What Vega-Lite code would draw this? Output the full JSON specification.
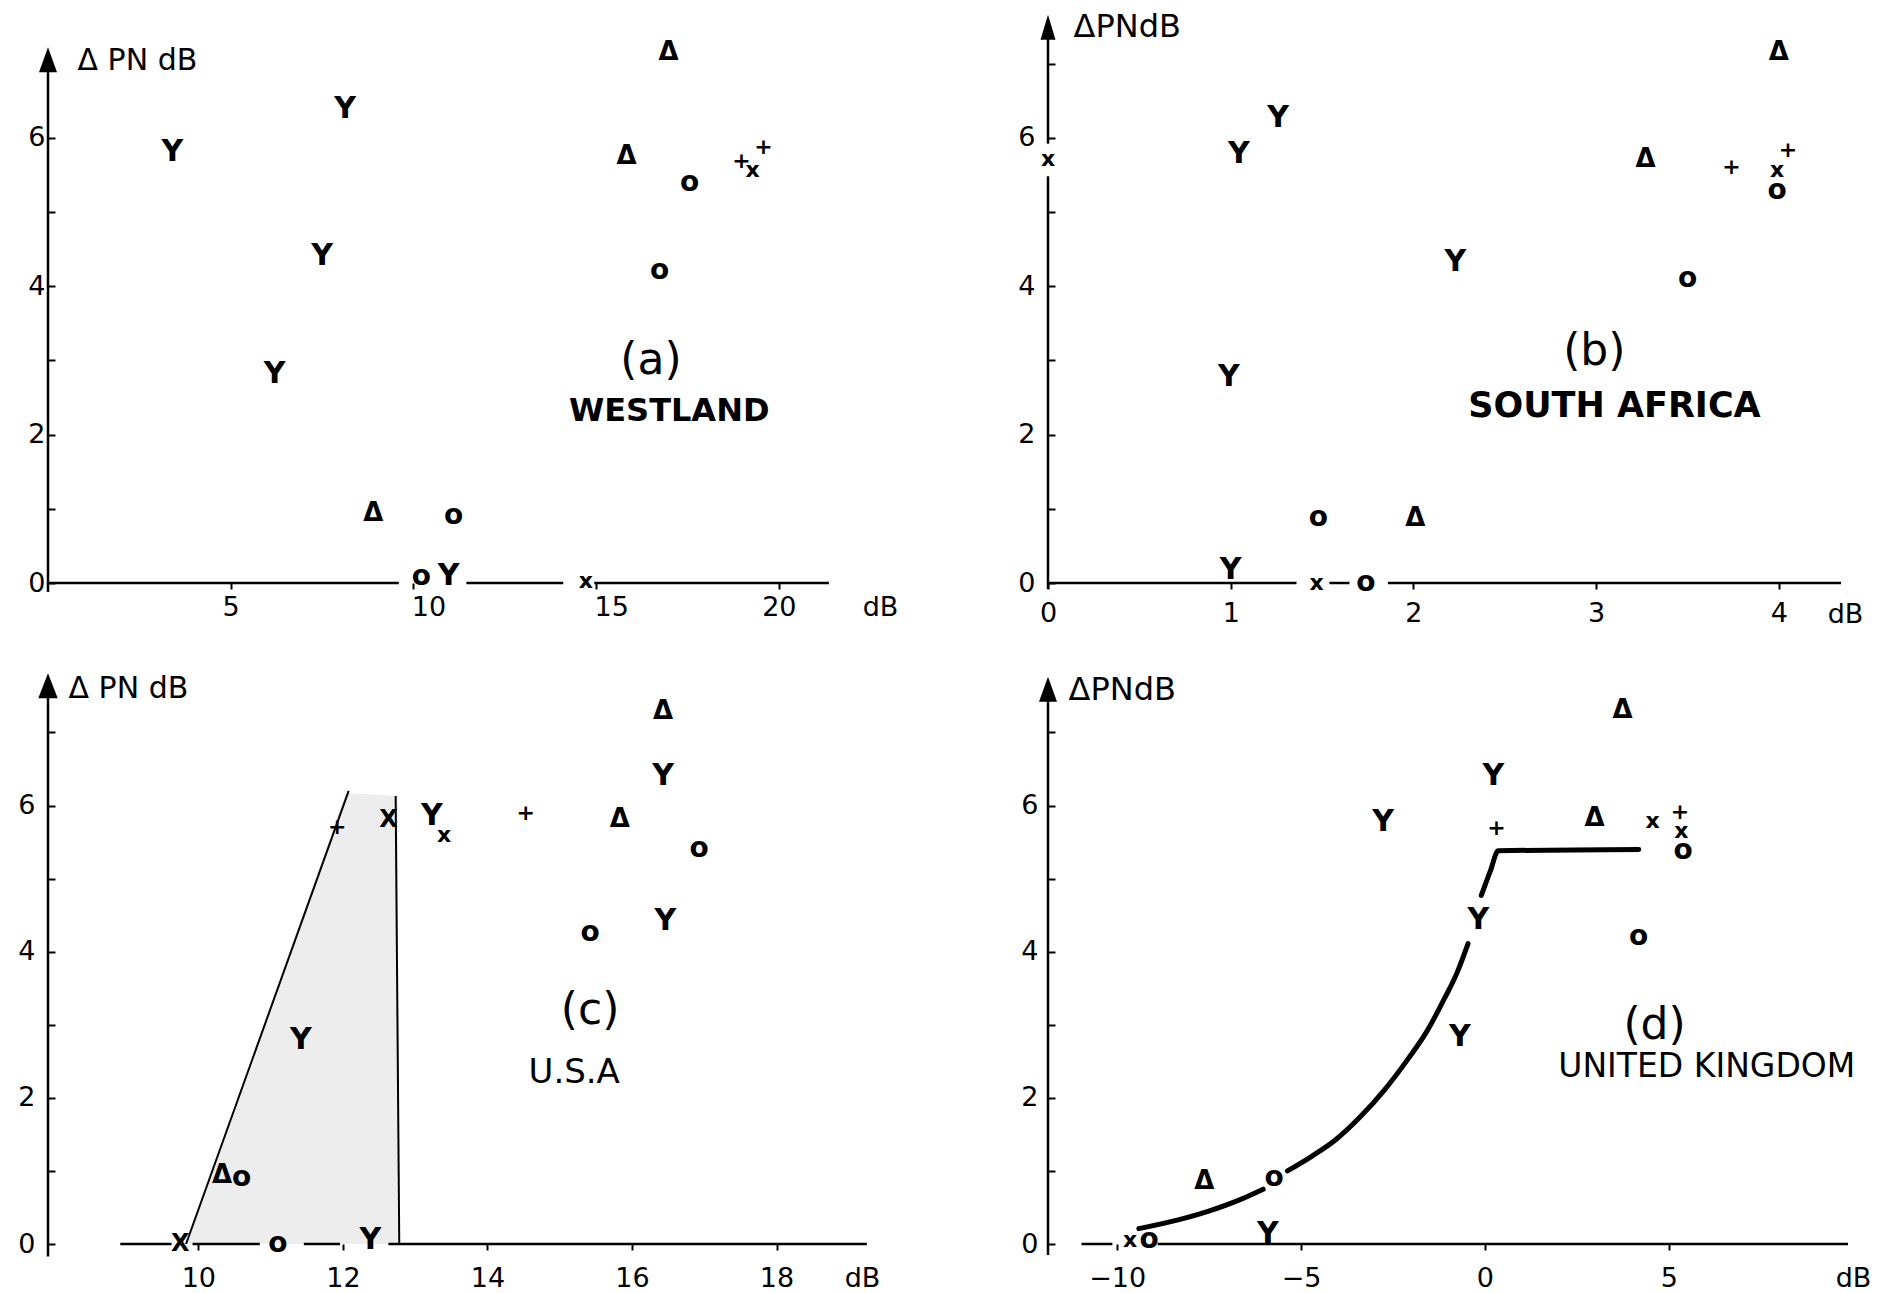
{
  "$schema": "https://vega.github.io/schema/vega-lite/v6.json",
  "background": "white",
  "padding": {"left": 17, "top": 10, "right": 0, "bottom": 0},
  "config": {
    "view": {"stroke": null},
    "font": "DejaVu Sans",
    "axis": {"domain": false, "grid": false, "tickColor": "#000", "tickWidth": 2, "labelColor": "#000", "labelFontSize": 27, "titleColor": "#000", "titleFontWeight": "normal", "labelFlush": false, "labelOverlap": false},
    "text": {"color": "#000"}
  },
  "datasets": {
    "a_pts": [
      {"x": 3.4, "y": 5.81, "s": "Y"}, {"x": 8.13, "y": 6.39, "s": "Y"}, {"x": 7.5, "y": 4.4, "s": "Y"}, {"x": 6.2, "y": 2.82, "s": "Y"},
      {"x": 8.9, "y": 0.94, "s": "Δ"}, {"x": 11.1, "y": 0.9, "s": "o"}, {"x": 10.22, "y": 0.08, "s": "o"}, {"x": 10.96, "y": 0.1, "s": "Y"},
      {"x": 14.72, "y": 0.03, "s": "x"}, {"x": 16.98, "y": 7.16, "s": "Δ"}, {"x": 15.83, "y": 5.75, "s": "Δ"}, {"x": 17.56, "y": 5.39, "s": "o"},
      {"x": 16.74, "y": 4.2, "s": "o"}, {"x": 18.98, "y": 5.68, "s": "+"}, {"x": 19.28, "y": 5.57, "s": "x"}, {"x": 19.58, "y": 5.88, "s": "+"}
    ],
    "a_lab": [{"x": 16.5, "y": 2.99, "t": "(a)"}],
    "a_name": [{"x": 17.0, "y": 2.32, "t": "WESTLAND"}],
    "a_seg": [
      {"x": 0, "y": -0.12, "x2": 0, "y2": 7.05},
      {"x": 0, "y": 0, "x2": 9.6, "y2": 0},
      {"x": 11.45, "y": 0, "x2": 14.1, "y2": 0},
      {"x": 14.95, "y": 0, "x2": 21.37, "y2": 0}
    ],
    "a_arr": [{"x": 0, "y": 7.05}],
    "b_pts": [
      {"x": 0, "y": 5.72, "s": "x"}, {"x": 1.045, "y": 5.78, "s": "Y"}, {"x": 1.26, "y": 6.27, "s": "Y"}, {"x": 2.23, "y": 4.32, "s": "Y"},
      {"x": 0.99, "y": 2.78, "s": "Y"}, {"x": 1.0, "y": 0.17, "s": "Y"}, {"x": 1.48, "y": 0.88, "s": "o"}, {"x": 2.01, "y": 0.88, "s": "Δ"},
      {"x": 1.47, "y": 0, "s": "x"}, {"x": 1.74, "y": 0, "s": "o"}, {"x": 4.0, "y": 7.15, "s": "Δ"}, {"x": 3.27, "y": 5.72, "s": "Δ"},
      {"x": 3.74, "y": 5.61, "s": "+"}, {"x": 4.05, "y": 5.83, "s": "+"}, {"x": 3.99, "y": 5.56, "s": "x"}, {"x": 3.99, "y": 5.28, "s": "o"},
      {"x": 3.5, "y": 4.1, "s": "o"}
    ],
    "b_lab": [{"x": 2.99, "y": 3.11, "t": "(b)"}],
    "b_name": [{"x": 3.1, "y": 2.39, "t": "SOUTH AFRICA"}],
    "b_seg": [
      {"x": 0, "y": -0.08, "x2": 0, "y2": 5.48},
      {"x": 0, "y": 5.92, "x2": 0, "y2": 7.49},
      {"x": 0, "y": 0, "x2": 1.36, "y2": 0},
      {"x": 1.54, "y": 0, "x2": 1.65, "y2": 0},
      {"x": 1.86, "y": 0, "x2": 4.34, "y2": 0}
    ],
    "b_arr": [{"x": 0, "y": 7.49}],
    "c_pts": [
      {"x": 9.75, "y": 0, "s": "X"}, {"x": 11.1, "y": 0, "s": "o"}, {"x": 12.38, "y": 0.06, "s": "Y"}, {"x": 10.33, "y": 0.94, "s": "Δ"},
      {"x": 10.6, "y": 0.91, "s": "o"}, {"x": 11.42, "y": 2.79, "s": "Y"}, {"x": 11.92, "y": 5.71, "s": "+"}, {"x": 12.63, "y": 5.8, "s": "X"},
      {"x": 13.23, "y": 5.86, "s": "Y"}, {"x": 13.4, "y": 5.6, "s": "x"}, {"x": 14.53, "y": 5.9, "s": "+"}, {"x": 15.83, "y": 5.81, "s": "Δ"},
      {"x": 16.43, "y": 7.29, "s": "Δ"}, {"x": 16.43, "y": 6.41, "s": "Y"}, {"x": 16.93, "y": 5.41, "s": "o"}, {"x": 15.42, "y": 4.25, "s": "o"},
      {"x": 16.46, "y": 4.42, "s": "Y"}
    ],
    "c_lab": [{"x": 15.42, "y": 3.19, "t": "(c)"}],
    "c_name": [{"x": 15.2, "y": 2.34, "t": "U.S.A"}],
    "c_seg": [
      {"x": 7.92, "y": -0.17, "x2": 7.92, "y2": 7.64},
      {"x": 8.92, "y": 0, "x2": 9.63, "y2": 0},
      {"x": 9.92, "y": 0, "x2": 10.85, "y2": 0},
      {"x": 11.46, "y": 0, "x2": 11.96, "y2": 0},
      {"x": 12.63, "y": 0, "x2": 19.25, "y2": 0}
    ],
    "c_arr": [{"x": 7.92, "y": 7.64}],
    "c_area": [{"x": 9.83, "y": 0}, {"x": 12.04, "y": 6.17}, {"x": 12.76, "y": 6.13}],
    "c_lines": [
      {"x": 9.83, "y": 0, "g": 1}, {"x": 12.08, "y": 6.2, "g": 1},
      {"x": 12.73, "y": 6.13, "g": 2}, {"x": 12.78, "y": 0, "g": 2}
    ],
    "d_pts": [
      {"x": -9.65, "y": 0.06, "s": "x"}, {"x": -9.13, "y": 0.06, "s": "o"}, {"x": -5.9, "y": 0.14, "s": "Y"}, {"x": -7.63, "y": 0.86, "s": "Δ"},
      {"x": -5.73, "y": 0.91, "s": "o"}, {"x": -2.77, "y": 5.77, "s": "Y"}, {"x": 0.23, "y": 6.4, "s": "Y"}, {"x": 0.31, "y": 5.69, "s": "+"},
      {"x": 2.98, "y": 5.83, "s": "Δ"}, {"x": 3.74, "y": 7.31, "s": "Δ"}, {"x": 4.56, "y": 5.79, "s": "x"}, {"x": 5.3, "y": 5.91, "s": "+"},
      {"x": 5.34, "y": 5.65, "s": "x"}, {"x": 5.39, "y": 5.38, "s": "o"}, {"x": 4.18, "y": 4.2, "s": "o"}, {"x": -0.18, "y": 4.43, "s": "Y"},
      {"x": -0.68, "y": 2.83, "s": "Y"}
    ],
    "d_lab": [{"x": 4.61, "y": 2.99, "t": "(d)"}],
    "d_name": [{"x": 6.03, "y": 2.42, "t": "UNITED KINGDOM"}],
    "d_seg": [
      {"x": -11.88, "y": -0.15, "x2": -11.88, "y2": 7.59},
      {"x": -10.97, "y": 0, "x2": -10.13, "y2": 0},
      {"x": -8.9, "y": 0, "x2": 9.87, "y2": 0}
    ],
    "d_arr": [{"x": -11.88, "y": 7.59}],
    "d_curve": [
      {"x": -9.41, "y": 0.21, "g": 1}, {"x": -8.34, "y": 0.33, "g": 1}, {"x": -7.51, "y": 0.45, "g": 1}, {"x": -6.69, "y": 0.6, "g": 1}, {"x": -6.03, "y": 0.75, "g": 1},
      {"x": -5.37, "y": 1.0, "g": 2}, {"x": -4.71, "y": 1.2, "g": 2}, {"x": -4.05, "y": 1.43, "g": 2}, {"x": -3.39, "y": 1.74, "g": 2}, {"x": -2.73, "y": 2.11, "g": 2},
      {"x": -2.08, "y": 2.54, "g": 2}, {"x": -1.58, "y": 2.91, "g": 2}, {"x": -1.09, "y": 3.37, "g": 2}, {"x": -0.76, "y": 3.71, "g": 2}, {"x": -0.46, "y": 4.11, "g": 2},
      {"x": -0.1, "y": 4.77, "g": 3}, {"x": 0.15, "y": 5.11, "g": 3}, {"x": 0.36, "y": 5.38, "g": 3}, {"x": 4.18, "y": 5.4, "g": 3}
    ]
  },
  "columns": 2,
  "spacing": {"row": 91, "column": 184},
  "bounds": "flush",
  "concat": [
    {
      "width": 782, "height": 564,
      "encoding": {
        "x": {"field": "x", "type": "quantitative", "scale": {"domain": [0, 21.4], "nice": false, "zero": false},
              "axis": {"values": [5, 10, 15, 20], "tickSize": 6, "labelPadding": 18, "labelBaseline": "middle",
                       "labelOffset": {"condition": {"test": "datum.value === 10 || datum.value === 15", "value": 15}, "value": 0},
                       "title": "dB", "titleAngle": 0, "titleAlign": "center", "titleBaseline": "middle", "titleX": 832, "titleY": 24, "titleFontSize": 27}},
        "y": {"field": "y", "type": "quantitative", "scale": {"domain": [0, 7.6], "nice": false, "zero": false},
              "axis": {"values": [0, 1, 2, 3, 4, 5, 6], "labelExpr": "datum.value % 2 === 0 ? datum.label : ''", "tickSize": -7, "labelPadding": 10, "title": "Δ PN dB", "titleAngle": 0, "titleAlign": "left", "titleBaseline": "middle", "titleX": 29, "titleY": 41, "titleFontSize": 30}}
      },
      "layer": [
        {"data": {"name": "a_seg"}, "mark": {"type": "rule", "strokeWidth": 2.5, "color": "#000"}, "encoding": {"x2": {"field": "x2"}, "y2": {"field": "y2"}}},
        {"data": {"name": "a_arr"}, "mark": {"type": "point", "shape": "M0,-1L0.72,1L-0.72,1Z", "size": 625, "filled": true, "color": "#000", "opacity": 1}},
        {"data": {"name": "a_pts"}, "mark": {"type": "text", "align": "center", "baseline": "middle", "fontWeight": "bold"},
         "encoding": {"text": {"field": "s"}, "size": {"field": "s", "type": "nominal", "scale": {"type": "ordinal", "domain": ["Y", "Δ", "o", "x", "X", "+"], "range": [30, 26, 28, 22, 24, 22]}, "legend": null}}},
        {"data": {"name": "a_lab"}, "mark": {"type": "text", "fontSize": 44, "align": "center", "baseline": "middle"}, "encoding": {"text": {"field": "t"}}},
        {"data": {"name": "a_name"}, "mark": {"type": "text", "fontSize": 32, "fontWeight": "bold", "align": "center", "baseline": "middle"}, "encoding": {"text": {"field": "t"}}}
      ]
    },
    {
      "width": 793, "height": 564,
      "encoding": {
        "x": {"field": "x", "type": "quantitative", "scale": {"domain": [0, 4.34], "nice": false, "zero": false},
              "axis": {"values": [0, 1, 2, 3, 4], "tickSize": 6, "labelPadding": 24, "labelBaseline": "middle", "title": "dB", "titleAngle": 0, "titleAlign": "center", "titleBaseline": "middle", "titleX": 797, "titleY": 31, "titleFontSize": 27}},
        "y": {"field": "y", "type": "quantitative", "scale": {"domain": [0, 7.6], "nice": false, "zero": false},
              "axis": {"values": [0, 1, 2, 3, 4, 5, 6, 7], "labelExpr": "datum.value % 2 === 0 ? datum.label : ''", "tickSize": -7, "labelPadding": 20, "title": "ΔPNdB", "titleAngle": 0, "titleAlign": "left", "titleBaseline": "middle", "titleX": 25, "titleY": 7, "titleFontSize": 32}}
      },
      "layer": [
        {"data": {"name": "b_seg"}, "mark": {"type": "rule", "strokeWidth": 2.5, "color": "#000"}, "encoding": {"x2": {"field": "x2"}, "y2": {"field": "y2"}}},
        {"data": {"name": "b_arr"}, "mark": {"type": "point", "shape": "M0,-1L0.6,1L-0.6,1Z", "size": 625, "filled": true, "color": "#000", "opacity": 1}},
        {"data": {"name": "b_pts"}, "mark": {"type": "text", "align": "center", "baseline": "middle", "fontWeight": "bold"},
         "encoding": {"text": {"field": "s"}, "size": {"field": "s", "type": "nominal", "scale": {"type": "ordinal", "domain": ["Y", "Δ", "o", "x", "X", "+"], "range": [30, 26, 28, 22, 24, 22]}, "legend": null}}},
        {"data": {"name": "b_lab"}, "mark": {"type": "text", "fontSize": 44, "align": "center", "baseline": "middle"}, "encoding": {"text": {"field": "t"}}},
        {"data": {"name": "b_name"}, "mark": {"type": "text", "fontSize": 35, "fontWeight": "bold", "align": "center", "baseline": "middle"}, "encoding": {"text": {"field": "t"}}}
      ]
    },
    {
      "width": 816, "height": 570,
      "encoding": {
        "x": {"field": "x", "type": "quantitative", "scale": {"domain": [7.92, 19.21], "nice": false, "zero": false},
              "axis": {"values": [10, 12, 14, 16, 18], "tickSize": 6, "labelPadding": 28, "labelBaseline": "middle", "title": "dB", "titleAngle": 0, "titleAlign": "center", "titleBaseline": "middle", "titleX": 814, "titleY": 34, "titleFontSize": 27}},
        "y": {"field": "y", "type": "quantitative", "scale": {"domain": [0, 7.8], "nice": false, "zero": false},
              "axis": {"values": [0, 1, 2, 3, 4, 5, 6, 7], "labelExpr": "datum.value % 2 === 0 ? datum.label : ''", "tickSize": -7, "labelPadding": 20, "title": "Δ PN dB", "titleAngle": 0, "titleAlign": "left", "titleBaseline": "middle", "titleX": 20, "titleY": 14, "titleFontSize": 30}}
      },
      "layer": [
        {"data": {"name": "c_area"}, "mark": {"type": "area", "color": "#000", "opacity": 0.07}, "encoding": {"y2": {"datum": 0}}},
        {"data": {"name": "c_lines"}, "mark": {"type": "line", "color": "#000", "strokeWidth": 2}, "encoding": {"detail": {"field": "g"}}},
        {"data": {"name": "c_seg"}, "mark": {"type": "rule", "strokeWidth": 2.5, "color": "#000"}, "encoding": {"x2": {"field": "x2"}, "y2": {"field": "y2"}}},
        {"data": {"name": "c_arr"}, "mark": {"type": "point", "shape": "M0,-1L0.78,1L-0.78,1Z", "size": 625, "filled": true, "color": "#000", "opacity": 1}},
        {"data": {"name": "c_pts"}, "mark": {"type": "text", "align": "center", "baseline": "middle", "fontWeight": "bold"},
         "encoding": {"text": {"field": "s"}, "size": {"field": "s", "type": "nominal", "scale": {"type": "ordinal", "domain": ["Y", "Δ", "o", "x", "X", "+"], "range": [30, 26, 28, 22, 24, 22]}, "legend": null}}},
        {"data": {"name": "c_lab"}, "mark": {"type": "text", "fontSize": 44, "align": "center", "baseline": "middle"}, "encoding": {"text": {"field": "t"}}},
        {"data": {"name": "c_name"}, "mark": {"type": "text", "fontSize": 34, "align": "center", "baseline": "middle"}, "encoding": {"text": {"field": "t"}}}
      ]
    },
    {
      "width": 800, "height": 570,
      "encoding": {
        "x": {"field": "x", "type": "quantitative", "scale": {"domain": [-11.88, 9.87], "nice": false, "zero": false},
              "axis": {"values": [-10, -5, 0, 5], "tickSize": 6, "labelPadding": 28, "labelBaseline": "middle", "title": "dB", "titleAngle": 0, "titleAlign": "center", "titleBaseline": "middle", "titleX": 805, "titleY": 34, "titleFontSize": 27}},
        "y": {"field": "y", "type": "quantitative", "scale": {"domain": [0, 7.8], "nice": false, "zero": false},
              "axis": {"values": [0, 1, 2, 3, 4, 5, 6, 7], "labelExpr": "datum.value % 2 === 0 ? datum.label : ''", "tickSize": -7, "labelPadding": 17, "title": "ΔPNdB", "titleAngle": 0, "titleAlign": "left", "titleBaseline": "middle", "titleX": 20, "titleY": 15, "titleFontSize": 32}}
      },
      "layer": [
        {"data": {"name": "d_curve"}, "mark": {"type": "line", "color": "#000", "strokeWidth": 5, "interpolate": "monotone", "strokeCap": "round"}, "encoding": {"detail": {"field": "g"}}},
        {"data": {"name": "d_seg"}, "mark": {"type": "rule", "strokeWidth": 2.5, "color": "#000"}, "encoding": {"x2": {"field": "x2"}, "y2": {"field": "y2"}}},
        {"data": {"name": "d_arr"}, "mark": {"type": "point", "shape": "M0,-1L0.72,1L-0.72,1Z", "size": 625, "filled": true, "color": "#000", "opacity": 1}},
        {"data": {"name": "d_pts"}, "mark": {"type": "text", "align": "center", "baseline": "middle", "fontWeight": "bold"},
         "encoding": {"text": {"field": "s"}, "size": {"field": "s", "type": "nominal", "scale": {"type": "ordinal", "domain": ["Y", "Δ", "o", "x", "X", "+"], "range": [30, 26, 28, 22, 24, 22]}, "legend": null}}},
        {"data": {"name": "d_lab"}, "mark": {"type": "text", "fontSize": 44, "align": "center", "baseline": "middle"}, "encoding": {"text": {"field": "t"}}},
        {"data": {"name": "d_name"}, "mark": {"type": "text", "fontSize": 33, "align": "center", "baseline": "middle"}, "encoding": {"text": {"field": "t"}}}
      ]
    }
  ]
}
